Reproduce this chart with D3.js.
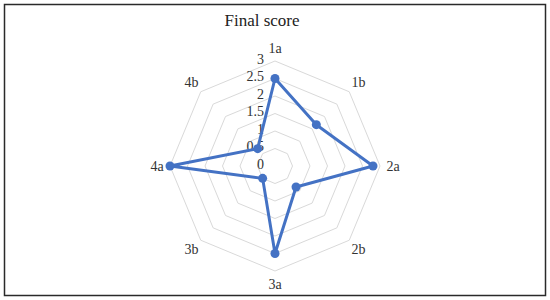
<!DOCTYPE html>
<html>
<head>
<meta charset="utf-8">
<script src="https://cdn.jsdelivr.net/npm/d3@7"></script>
<style>
  body { margin: 0; background: #fff; }
</style>
</head>
<body>
<svg width="550" height="300"></svg>
<script>
const categories = ["1a", "1b", "2a", "2b", "3a", "3b", "4a", "4b"];
const scores = [2.5, 1.67, 2.8, 0.85, 2.5, 0.5, 3, 0.7];
const tickValues = [0, 0.5, 1, 1.5, 2, 2.5, 3];

const cx = 275, cy = 166;
const serif = "'Times New Roman', 'Liberation Serif', Tinos, 'DejaVu Serif', serif";
const svg = d3.select("svg").attr("font-family", serif);

// frame
svg.append("rect")
  .attr("x", 4.5).attr("y", 4.5)
  .attr("width", 541).attr("height", 291)
  .attr("fill", "#fff")
  .attr("stroke", "#2a2a2a")
  .attr("stroke-width", 1.5);

svg.append("text")
  .attr("x", 262).attr("y", 26)
  .attr("text-anchor", "middle")
  .attr("font-family", serif)
  .attr("font-size", 17)
  .attr("fill", "#222")
  .text("Final score");

const r = d3.scaleLinear().domain([0, 3]).range([0, 105]);
const angle = d3.scalePoint()
  .domain(categories)
  .range([0, 2 * Math.PI * (categories.length - 1) / categories.length]);

const g = svg.append("g").attr("transform", `translate(${cx},${cy})`);

// grid octagons
const ring = d3.lineRadial()
  .angle(d => angle(d))
  .curve(d3.curveLinearClosed);

g.selectAll(".grid")
  .data(tickValues.filter(t => t > 0))
  .enter()
  .append("path")
  .attr("class", "grid")
  .attr("d", t => ring.radius(r(t))(categories))
  .attr("fill", "none")
  .attr("stroke", "#d9d9d9")
  .attr("stroke-width", 1);

// tick labels
g.selectAll(".tick")
  .data(tickValues)
  .enter()
  .append("text")
  .attr("x", -11)
  .attr("y", t => -r(t) - 2)
  .attr("dy", "0.35em")
  .attr("text-anchor", "end")
  .attr("font-family", serif)
  .attr("font-size", 14)
  .attr("fill", "#333")
  .text(t => t);

// category labels
g.selectAll(".cat")
  .data(categories)
  .enter()
  .append("text")
  .attr("x", d => 118 * Math.sin(angle(d)))
  .attr("y", d => -118 * Math.cos(angle(d)))
  .attr("dy", "0.35em")
  .attr("text-anchor", "middle")
  .attr("font-family", serif)
  .attr("font-size", 14)
  .attr("fill", "#333")
  .text(d => d);

// series
const line = d3.lineRadial()
  .angle((d, i) => angle(categories[i]))
  .radius(d => r(d))
  .curve(d3.curveLinearClosed);

g.append("path")
  .attr("d", line(scores))
  .attr("fill", "none")
  .attr("stroke", "#4472c4")
  .attr("stroke-width", 3)
  .attr("stroke-linejoin", "round");

g.selectAll(".dot")
  .data(scores)
  .enter()
  .append("circle")
  .attr("cx", (d, i) => r(d) * Math.sin(angle(categories[i])))
  .attr("cy", (d, i) => -r(d) * Math.cos(angle(categories[i])))
  .attr("r", 4.5)
  .attr("fill", "#4472c4");
</script>
</body>
</html>
